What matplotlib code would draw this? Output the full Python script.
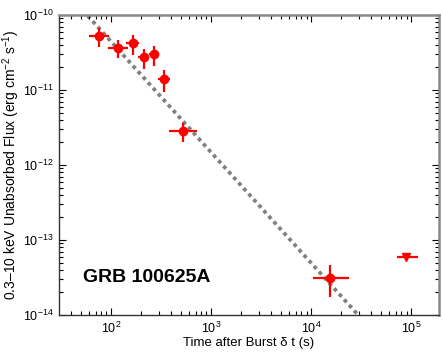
import numpy as np
import matplotlib
matplotlib.use("Agg")
import matplotlib.pyplot as plt
from matplotlib.ticker import LogLocator, NullFormatter

plt.rcParams["font.family"] = ["Liberation Sans", "DejaVu Sans"]
plt.rcParams["mathtext.fontset"] = "custom"
plt.rcParams["mathtext.rm"] = "Liberation Sans"
plt.rcParams["mathtext.it"] = "Liberation Sans:italic"
plt.rcParams["mathtext.bf"] = "Liberation Sans:bold"

# Data
t_mid = [76, 117, 165, 212, 269, 339, 525, 15500]
t_lo = [60, 93, 141, 186, 240, 295, 380, 10500]
t_hi = [96, 148, 191, 240, 295, 389, 724, 24000]
flux = [5.2e-11, 3.6e-11, 4.2e-11, 2.75e-11, 3.0e-11, 1.4e-11, 2.8e-12, 3.1e-14]
flux_hi = [6.7e-11, 4.6e-11, 5.4e-11, 3.5e-11, 3.9e-11, 1.85e-11, 3.6e-12, 4.7e-14]
flux_lo = [3.7e-11, 2.7e-11, 2.9e-11, 1.9e-11, 2.1e-11, 9.4e-12, 2.0e-12, 1.74e-14]

ul_t = [89000]
ul_t_lo = [72000]
ul_t_hi = [118000]
ul_flux = [5.9e-14]

# Power-law decay model
decay_index = 1.476
norm_t = 1000.0
norm_flux = 1.48e-12

fig = plt.figure(figsize=(4.43, 3.55), dpi=100)
ax = fig.add_axes([0.1332, 0.1127, 0.9910 - 0.1332, 0.9577 - 0.1127])

tt = np.logspace(1.4, 5.4, 200)
ax.plot(tt, norm_flux * (tt / norm_t) ** (-decay_index), color="#808080",
        lw=2.7, linestyle=(0, (1, 1.0)), zorder=1)

t_mid_a = np.array(t_mid)
flux_a = np.array(flux)
xerr = [t_mid_a - np.array(t_lo), np.array(t_hi) - t_mid_a]
yerr = [flux_a - np.array(flux_lo), np.array(flux_hi) - flux_a]
ax.errorbar(t_mid_a, flux_a, xerr=xerr, yerr=yerr, fmt="o", color="red",
            ms=6, elinewidth=1.6, capsize=0, zorder=3)

ul_t_a = np.array(ul_t)
ax.errorbar(ul_t_a, ul_flux, xerr=[ul_t_a - np.array(ul_t_lo), np.array(ul_t_hi) - ul_t_a],
            fmt="v", color="red", ms=6, elinewidth=1.6, capsize=0, zorder=3)

ax.set_xscale("log")
ax.set_yscale("log")
ax.set_xlim(30.2, 1.9e5)
ax.set_ylim(1e-14, 1e-10)

ax.xaxis.set_major_locator(LogLocator(base=10, numticks=10))
ax.xaxis.set_minor_locator(LogLocator(base=10, subs=np.arange(2, 10), numticks=10))
ax.yaxis.set_major_locator(LogLocator(base=10, numticks=10))
ax.yaxis.set_minor_locator(LogLocator(base=10, subs=np.arange(2, 10), numticks=10))
ax.xaxis.set_minor_formatter(NullFormatter())
ax.yaxis.set_minor_formatter(NullFormatter())

ax.tick_params(which="both", direction="in", top=True, right=True, labelsize=9, pad=4)
ax.tick_params(which="major", length=5, width=0.8)
ax.tick_params(which="minor", length=3, width=0.8)

for s in ["left", "bottom"]:
    ax.spines[s].set_color("#333333")
    ax.spines[s].set_linewidth(1.0)
for s in ["top", "right"]:
    ax.spines[s].set_color("#888888")
    ax.spines[s].set_linewidth(1.8)

ax.set_xlabel("Time after Burst δ t (s)", fontsize=9.5, labelpad=1)
ax.set_ylabel("0.3–10 keV Unabsorbed Flux (erg cm$^{-2}$ s$^{-1}$)", fontsize=10)
ax.yaxis.set_label_coords(-0.098, 0.5)

ax.text(0.062, 0.125, "GRB 100625A", transform=ax.transAxes, fontsize=14,
        fontweight="bold", ha="left", va="center")

fig.savefig("out.png", dpi=100)
